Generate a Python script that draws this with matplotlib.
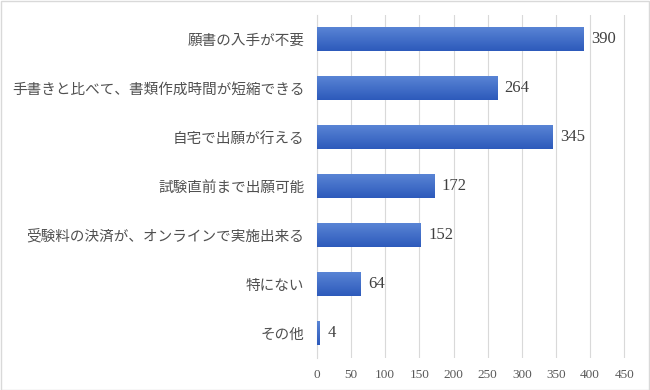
import matplotlib
matplotlib.use("Agg")
import matplotlib.pyplot as plt
import numpy as np
from matplotlib.colors import LinearSegmentedColormap

categories = ["願書の入手が不要", "手書きと比べて、書類作成時間が短縮できる", "自宅で出願が行える",
              "試験直前まで出願可能", "受験料の決済が、オンラインで実施出来る", "特にない", "その他"]
values = [390, 264, 345, 172, 152, 64, 4]
xticks = [0, 50, 100, 150, 200, 250, 300, 350, 400, 450]

plt.rcParams['font.family'] = ['Noto Sans CJK JP', 'DejaVu Sans']

fig = plt.figure(figsize=(6.5, 3.9), dpi=100)
fig.patches.append(plt.Rectangle((0.5/650, 0.5/390), 1 - 1.5/650, 1 - 1.5/390, transform=fig.transFigure,
                                 fill=False, edgecolor='#d9d9d9', linewidth=1))
ax = fig.add_axes([317/650, 1 - 357.5/390, (625 - 317)/650 + 0.004, (357.5 - 14.5)/390])

y = np.arange(len(categories))
bars = ax.barh(y, values, height=0.5, color='#4472c4', zorder=3)
cmap = LinearSegmentedColormap.from_list('g', ['#5b86d6', '#2d5abb'])
grad = np.linspace(0, 1, 64).reshape(-1, 1)
for b in bars:
    x0, y0 = b.get_x(), b.get_y()
    w, h = b.get_width(), b.get_height()
    im = ax.imshow(grad, extent=(x0, x0 + w, y0 + h, y0), cmap=cmap, aspect='auto',
                   origin='upper', zorder=4)
    im.set_clip_path(b)

for yi, v in zip(y, values):
    ax.text(v + 11, yi, str(v), va='center', ha='left', fontsize=12,
            family=['Liberation Serif', 'DejaVu Serif'], color='#404040', zorder=5)

ax.set_xlim(0, 455)
ax.set_ylim(len(categories) - 0.5, -0.5)
ax.set_xticks(xticks)
ax.set_xticklabels([str(t) for t in xticks], fontsize=9.5, color='#595959',
                   family=['Liberation Serif', 'DejaVu Serif'])
ax.set_yticks(y)
ax.set_yticklabels(categories, fontsize=10.5, color='#505050')
ax.tick_params(axis='both', length=0)
ax.tick_params(axis='y', pad=9)
ax.tick_params(axis='x', pad=8)
ax.grid(axis='x', color='#d9d9d9', linewidth=0.8, zorder=0)
for s in ['top', 'right', 'bottom']:
    ax.spines[s].set_visible(False)
ax.spines['left'].set_color('#d9d9d9')
ax.spines['left'].set_zorder(2)

fig.savefig('out.png', dpi=100)
